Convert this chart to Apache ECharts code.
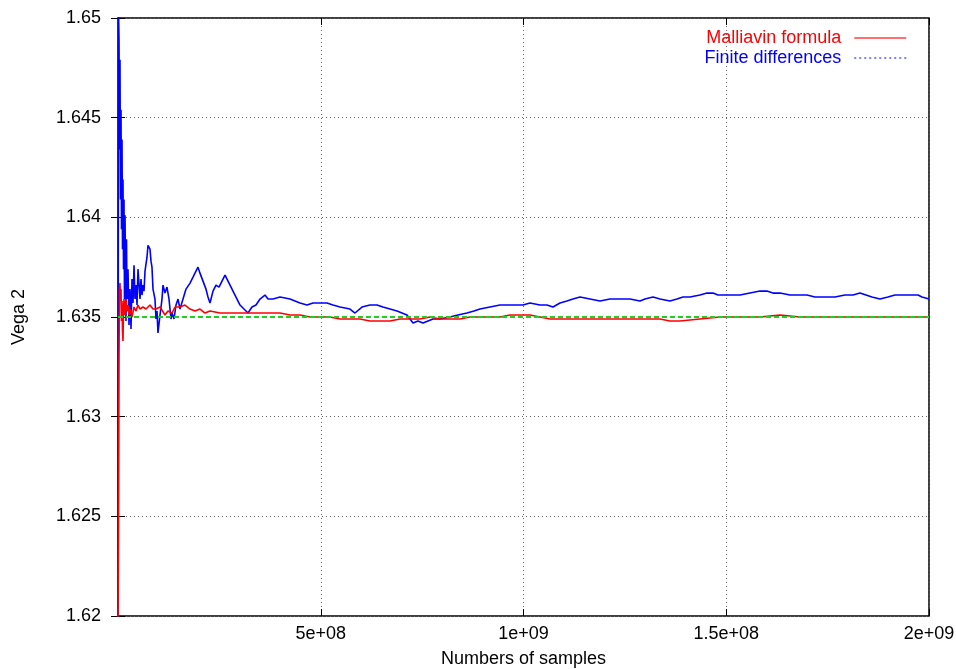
<!DOCTYPE html>
<html>
<head>
<meta charset="utf-8">
<script src="https://cdn.jsdelivr.net/npm/echarts@6/dist/echarts.min.js"></script>
<style>
html,body{margin:0;padding:0;background:#fff;}
#chart{width:956px;height:669px;}
</style>
</head>
<body>
<div id="chart"></div>
<script>
// x values in millions of samples
const blueX = [0,1.2,2.5,3.7,4.9,6.2,7.4,8.6,9.9,11.1,12.3,13.6,14.8,16.0,17.3,19.7,21.0,22.2,24.7,27.1,29.6,32.1,34.5,37.0,39.5,41.9,44.4,46.9,49.3,54.3,56.7,59.2,61.7,64.1,66.6,71.5,74.0,78.9,81.4,83.8,86.3,91.2,93.7,96.2,98.6,103.6,108.5,111.0,115.9,120.8,125.8,130.7,133.2,138.1,143.0,148.0,152.9,160.3,167.7,177.6,185.0,192.3,197.3,202.2,209.6,217.0,221.9,226.9,234.3,241.7,249.1,256.5,263.9,271.3,278.7,288.5,300.9,310.7,320.6,330.4,340.3,350.2,362.5,369.9,382.2,399.5,424.2,448.8,466.1,480.9,498.1,515.4,530.2,547.5,572.1,584.4,601.7,621.4,638.7,653.5,670.8,688.0,712.7,727.5,739.8,752.1,764.5,776.8,794.1,818.7,838.4,860.6,877.9,892.7,917.4,942.0,966.7,998.7,1016.0,1040.7,1057.9,1072.7,1090.0,1107.2,1122.0,1139.3,1164.0,1188.6,1213.3,1237.9,1262.6,1287.3,1299.6,1319.3,1336.6,1361.2,1378.5,1393.3,1410.6,1435.2,1452.5,1467.3,1479.6,1491.9,1509.2,1533.9,1558.5,1583.2,1600.4,1615.2,1632.5,1657.2,1681.8,1699.1,1718.8,1731.1,1748.4,1768.1,1792.8,1812.5,1829.8,1844.6,1859.4,1879.1,1898.8,1916.1,1935.8,1953.1,1972.8,1982.7,2000];
const finiteDifferences = [1.6190,1.6504,1.6489,1.6434,1.6479,1.6409,1.6454,1.6394,1.6439,1.6384,1.6419,1.6374,1.6409,1.6359,1.6401,1.6348,1.6389,1.6359,1.6374,1.6346,1.6364,1.6344,1.6369,1.6357,1.6376,1.6359,1.6366,1.6356,1.6374,1.6359,1.6369,1.6361,1.6366,1.6363,1.6373,1.6380,1.6386,1.6384,1.6378,1.6375,1.6364,1.6359,1.6349,1.6353,1.6342,1.6351,1.6359,1.6366,1.6362,1.6365,1.6359,1.6349,1.6352,1.6349,1.6356,1.6359,1.6354,1.6359,1.6364,1.6367,1.6370,1.6373,1.6375,1.6372,1.6368,1.6364,1.6360,1.6357,1.6363,1.6366,1.6365,1.6368,1.6371,1.6368,1.6365,1.6361,1.6356,1.6354,1.6352,1.6355,1.6356,1.6359,1.6361,1.6359,1.6359,1.6360,1.6359,1.6357,1.6356,1.6357,1.6357,1.6357,1.6356,1.6355,1.6354,1.6352,1.6355,1.6356,1.6356,1.6355,1.6354,1.6353,1.6351,1.6347,1.6348,1.6347,1.6348,1.6349,1.6349,1.6350,1.6351,1.6352,1.6353,1.6354,1.6355,1.6356,1.6356,1.6356,1.6357,1.6356,1.6356,1.6355,1.6357,1.6358,1.6359,1.6360,1.6359,1.6358,1.6359,1.6359,1.6359,1.6358,1.6359,1.6360,1.6359,1.6358,1.6359,1.6360,1.6360,1.6361,1.6362,1.6362,1.6361,1.6361,1.6361,1.6361,1.6362,1.6363,1.6363,1.6362,1.6362,1.6361,1.6361,1.6361,1.6360,1.6360,1.6360,1.6360,1.6361,1.6361,1.6362,1.6361,1.6360,1.6359,1.6360,1.6361,1.6361,1.6361,1.6361,1.6360,1.6359];

const redX = [0,1.2,2.5,3.7,4.9,6.2,7.4,8.6,9.9,11.1,12.3,13.6,14.8,17.3,19.7,22.2,24.7,27.1,29.6,34.5,39.5,44.4,49.3,54.3,61.7,69.1,78.9,86.3,93.7,103.6,115.9,123.3,133.2,140.6,152.9,165.2,177.6,189.9,202.2,214.5,226.9,251.5,276.2,300.9,325.5,350.2,374.9,399.5,424.2,448.8,473.5,498.1,522.8,547.5,572.1,596.8,621.4,646.1,670.8,695.4,720.1,744.7,769.4,794.1,818.7,843.4,868.0,892.7,917.4,942.0,966.7,991.3,1016.0,1040.7,1065.3,1090.0,1139.3,1188.6,1237.9,1287.3,1336.6,1361.2,1385.9,1435.2,1484.5,1533.9,1583.2,1632.5,1681.8,1731.1,1780.4,1829.8,1879.1,1928.4,2000];
const malliavinFormula = [1.6195,1.6240,1.6330,1.6364,1.6367,1.6358,1.6364,1.6348,1.6358,1.6343,1.6338,1.6354,1.6359,1.6351,1.6359,1.6353,1.6356,1.6351,1.6354,1.6350,1.6355,1.6353,1.6356,1.6354,1.6355,1.6354,1.6356,1.6354,1.6354,1.6355,1.6351,1.6353,1.6352,1.6355,1.6355,1.6356,1.6354,1.6353,1.6354,1.6352,1.6353,1.6352,1.6352,1.6352,1.6352,1.6352,1.6352,1.6352,1.6351,1.6351,1.6350,1.6350,1.6350,1.6349,1.6349,1.6349,1.6348,1.6348,1.6348,1.6349,1.6349,1.6349,1.6350,1.6349,1.6349,1.6349,1.6350,1.6350,1.6350,1.6350,1.6351,1.6351,1.6351,1.6350,1.6349,1.6349,1.6349,1.6349,1.6349,1.6349,1.6349,1.6348,1.6348,1.6349,1.6350,1.6350,1.6350,1.6351,1.6350,1.6350,1.6350,1.6350,1.6350,1.6350,1.6350];

const refX = [0, 2000];
const exactValue = [1.635, 1.635];

const xTickLabels = ['', '5e+08', '1e+09', '1.5e+08', '2e+09'];
const yTickLabels = ['1.62', '1.625', '1.63', '1.635', '1.64', '1.645', '1.65'];

const toPairs = (xs, ys) => xs.map((x, i) => [x * 1e6, ys[i]]);

const FONT = "'Liberation Sans', Arial, Helvetica, sans-serif";
const chart = echarts.init(document.getElementById('chart'), null, {renderer: 'canvas'});

const tickStyle = {inside: true, length: 7, lineStyle: {color: '#000', width: 1}};
const option = {
  animation: false,
  backgroundColor: '#fff',
  textStyle: {fontFamily: FONT},
  grid: {left: 118, right: 27, top: 18, bottom: 53, containLabel: false, outerBoundsMode: 'none',
    show: true, borderColor: '#000', borderWidth: 1.5, backgroundColor: 'transparent'},
  legend: {
    orient: 'vertical',
    align: 'right',
    right: 44,
    top: 24,
    itemWidth: 52,
    itemHeight: 14,
    itemGap: 2,
    itemStyle: {opacity: 0},
    textStyle: {fontFamily: FONT, fontSize: 18, padding: [0, 8, 0, 0]},
    data: [
      {name: 'Malliavin formula', itemStyle: {opacity: 0}, textStyle: {color: '#ff0000'}, lineStyle: {color: '#ff4040', width: 1.5, type: 'solid'}},
      {name: 'Finite differences', itemStyle: {opacity: 0}, textStyle: {color: '#0000ff'}, lineStyle: {color: '#0000ff', width: 1, type: [2, 3]}}
    ]
  },
  xAxis: [{
    type: 'value', min: 0, max: 2e9, interval: 5e8, position: 'bottom',
    name: 'Numbers of samples', nameLocation: 'middle', nameGap: 34,
    nameTextStyle: {fontFamily: FONT, fontSize: 18, color: '#000'},
    axisLine: {show: false},
    axisTick: tickStyle,
    axisLabel: {margin: 9, fontFamily: FONT, fontSize: 18, color: '#000',
      formatter: v => xTickLabels[Math.round(v / 5e8)] || ''},
    splitLine: {show: true, lineStyle: {color: '#666', type: [1, 3], width: 1}}
  }, {
    type: 'value', min: 0, max: 2e9, interval: 5e8, position: 'top',
    axisLine: {show: false}, axisTick: tickStyle, axisLabel: {show: false}, splitLine: {show: false}
  }],
  yAxis: [{
    type: 'value', min: 1.62, max: 1.65, interval: 0.005, position: 'left',
    name: 'Vega 2', nameLocation: 'middle', nameGap: 90, nameRotate: 90,
    nameTextStyle: {fontFamily: FONT, fontSize: 18, color: '#000'},
    axisLine: {show: false},
    axisTick: tickStyle,
    axisLabel: {margin: 17, fontFamily: FONT, fontSize: 18, color: '#000',
      formatter: v => yTickLabels[Math.round((v - 1.62) / 0.005)] || ''},
    splitLine: {show: true, lineStyle: {color: '#666', type: [1, 3], width: 1}}
  }, {
    type: 'value', min: 1.62, max: 1.65, interval: 0.005, position: 'right',
    axisLine: {show: false}, axisTick: tickStyle, axisLabel: {show: false}, splitLine: {show: false}
  }],
  series: [
    {name: 'Finite differences', type: 'line', data: toPairs(blueX, finiteDifferences), symbol: 'none', z: 3,
      lineStyle: {color: '#0000ff', width: 1.6}, itemStyle: {color: '#0000ff'}},
    {name: 'Malliavin formula', type: 'line', data: toPairs(redX, malliavinFormula), symbol: 'none', z: 4,
      lineStyle: {color: '#ff0000', width: 1.6}, itemStyle: {color: '#ff0000'}},
    {name: 'Exact value', type: 'line', data: toPairs(refX, exactValue), symbol: 'none', z: 5,
      lineStyle: {color: '#22cc22', width: 2, type: [5, 3]}, itemStyle: {color: '#22cc22'}}
  ]
};
chart.setOption(option);
</script>
</body>
</html>
